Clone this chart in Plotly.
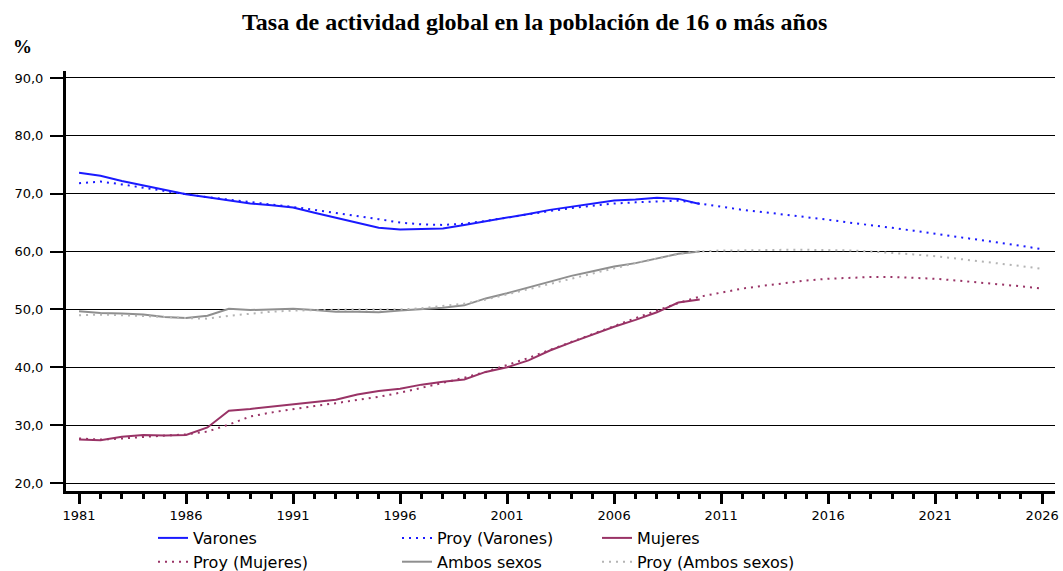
import plotly.graph_objects as go

years_obs = list(range(1981, 2011))
years_proj = list(range(1981, 2027))

varones = [73.6, 73.1, 72.2, 71.4, 70.6, 69.9, 69.4, 68.8, 68.3, 68.0,
           67.6, 66.7, 65.8, 65.0, 64.1, 63.8, 63.9, 64.0, 64.6, 65.2,
           65.9, 66.5, 67.2, 67.7, 68.2, 68.8, 69.0, 69.3, 69.1, 68.2]
proy_varones = [71.8, 72.1, 71.6, 71.0, 70.4, 69.9, 69.4, 69.0, 68.6, 68.2,
                67.7, 67.2, 66.7, 66.1, 65.6, 65.0, 64.7, 64.6, 64.8, 65.3,
                65.9, 66.5, 67.0, 67.5, 67.9, 68.3, 68.5, 68.7, 68.8, 68.3,
                67.7, 67.2, 66.8, 66.4, 65.9, 65.5, 65.0, 64.6, 64.1, 63.6,
                63.1, 62.6, 62.1, 61.5, 61.0, 60.4]
mujeres = [27.5, 27.4, 28.0, 28.3, 28.2, 28.3, 29.6, 32.5, 32.8, 33.2,
           33.6, 34.1, 34.4, 35.3, 35.9, 36.3, 37.0, 37.5, 37.9, 39.2,
           40.0, 41.2, 42.9, 44.3, 45.7, 47.0, 48.2, 49.5, 51.2, 51.7]
proy_mujeres = [27.7, 27.5, 27.7, 28.0, 28.2, 28.4, 28.9, 30.1, 31.5, 32.2,
                32.8, 33.3, 33.8, 34.3, 34.9, 35.6, 36.4, 37.3, 38.2, 39.2,
                40.4, 41.6, 43.0, 44.4, 45.8, 47.2, 48.5, 49.8, 51.1, 52.2,
                52.9, 53.6, 54.1, 54.6, 55.0, 55.3, 55.5, 55.6, 55.6, 55.5,
                55.3, 55.0, 54.7, 54.4, 54.0, 53.6]
ambos = [49.7, 49.4, 49.3, 49.1, 48.7, 48.5, 48.9, 50.1, 49.9, 50.0,
         50.1, 49.9, 49.6, 49.6, 49.5, 49.8, 50.0, 50.3, 50.7, 51.9,
         52.8, 53.8, 54.9, 55.8, 56.6, 57.4, 58.0, 58.8, 59.6, 60.0]
proy_ambos = [49.0, 49.1, 49.0, 48.9, 48.7, 48.5, 48.4, 48.9, 49.3, 49.6,
              49.8, 49.9, 49.9, 50.0, 50.0, 50.0, 50.2, 50.6, 51.0, 51.7,
              52.6, 53.5, 54.5, 55.4, 56.3, 57.2, 58.0, 58.8, 59.6, 60.0,
              60.2, 60.2, 60.3, 60.3, 60.3, 60.3, 60.2, 60.0, 59.8, 59.5,
              59.2, 58.8, 58.4, 58.0, 57.5, 57.0]

y_ticks = [20, 30, 40, 50, 60, 70, 80, 90]
y_ticktext = ["20,0", "30,0", "40,0", "50,0", "60,0", "70,0", "80,0", "90,0"]
x_ticks = [1981, 1986, 1991, 1996, 2001, 2006, 2011, 2016, 2021, 2026]

title_text = "Tasa de actividad global en la población de 16 o más años"

BLUE = "#1a1aff"
MAROON = "#993366"
GRAY = "#8f8f8f"
LGRAY = "#b4b4b4"
DOT = "2px,5px"

fig = go.Figure()

series = [
    ("Varones", years_obs, varones, BLUE, "solid", "legend"),
    ("Proy (Varones)", years_proj, proy_varones, BLUE, DOT, "legend2"),
    ("Mujeres", years_obs, mujeres, MAROON, "solid", "legend3"),
    ("Proy (Mujeres)", years_proj, proy_mujeres, MAROON, DOT, "legend"),
    ("Ambos sexos", years_obs, ambos, GRAY, "solid", "legend2"),
    ("Proy (Ambos sexos)", years_proj, proy_ambos, LGRAY, DOT, "legend3"),
]

for i, (name, xs, ys, col, dash, lg) in enumerate(series):
    fig.add_trace(go.Scatter(
        x=xs, y=ys, name=name, mode="lines",
        line=dict(color=col, width=2, dash=dash),
        legend=lg, legendrank=i + 1,
    ))

legend_common = dict(
    orientation="v", xref="container", yref="container",
    yanchor="top", xanchor="left",
    font=dict(family="DejaVu Sans", size=16, color="#000000"),
    bgcolor="rgba(0,0,0,0)", borderwidth=0, tracegroupgap=0,
    itemwidth=30,
)

fig.update_layout(
    width=1063, height=571,
    paper_bgcolor="white", plot_bgcolor="white",
    margin=dict(l=66, r=8, t=71, b=80, autoexpand=False),
    title=dict(text=f"<b>{title_text}</b>", x=0.503, xanchor="center",
               y=1 - 22 / 571, yanchor="middle", xref="container", yref="container",
               font=dict(family="Liberation Serif", size=24, color="#000000")),
    showlegend=True,
    legend=dict(**legend_common, x=153 / 1063, y=1 - 521 / 571),
    legend2=dict(**legend_common, x=397 / 1063, y=1 - 521 / 571),
    legend3=dict(**legend_common, x=597 / 1063, y=1 - 521 / 571),
    xaxis=dict(
        range=[1980.39, 2026.6], tickmode="array", tickvals=x_ticks,
        ticktext=[str(v) for v in x_ticks],
        showgrid=False, zeroline=False,
        showline=True, linecolor="#000000", linewidth=3,
        ticks="outside", ticklen=10, tickwidth=3, tickcolor="#000000",
        minor=dict(dtick=1, tick0=1981, ticks="outside", ticklen=5,
                   tickwidth=3, tickcolor="#000000", showgrid=False),
        tickfont=dict(family="DejaVu Sans", size=13, color="#000000"),
        fixedrange=True,
    ),
    yaxis=dict(
        range=[18.62, 91.2], tickmode="array", tickvals=y_ticks,
        ticktext=y_ticktext,
        showgrid=True, gridcolor="#000000", gridwidth=1.2, zeroline=False,
        showline=True, linecolor="#000000", linewidth=3,
        ticks="outside", ticklen=13, tickwidth=2, tickcolor="#000000",
        tickfont=dict(family="DejaVu Sans", size=13, color="#000000"),
        ticklabelstandoff=4,
        fixedrange=True,
    ),
    annotations=[dict(
        text="<b>%</b>", xref="paper", yref="paper", showarrow=False,
        x=-44 / 989, y=1 + (71 - 47) / 420, xanchor="center", yanchor="middle",
        font=dict(family="Liberation Serif", size=19, color="#000000"),
    )],
)

fig.write_html("out.html", config={"displayModeBar": False},
               post_script="document.body.style.margin='0';")
